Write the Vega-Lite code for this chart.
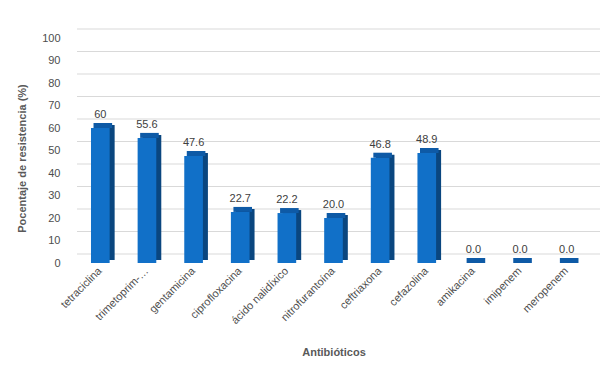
{
  "$schema": "https://vega.github.io/schema/vega-lite/v6.json",
  "autosize": {"type": "none"},
  "width": 513,
  "height": 225,
  "padding": {"left": 77, "top": 38, "right": 25, "bottom": 121},
  "background": "#FFFFFF",
  "config": {
    "view": {"stroke": null},
    "font": "Liberation Sans",
    "axis": {"labelFont": "Liberation Sans", "titleFont": "Liberation Sans"}
  },
  "data": {
    "values": [
      {"antibiotico": "tetraciclina", "valor": 60, "etiqueta": "60"},
      {"antibiotico": "trimetoprim-sulfametoxazol", "valor": 55.6, "etiqueta": "55.6"},
      {"antibiotico": "gentamicina", "valor": 47.6, "etiqueta": "47.6"},
      {"antibiotico": "ciprofloxacina", "valor": 22.7, "etiqueta": "22.7"},
      {"antibiotico": "ácido nalidíxico", "valor": 22.2, "etiqueta": "22.2"},
      {"antibiotico": "nitrofurantoína", "valor": 20.0, "etiqueta": "20.0"},
      {"antibiotico": "ceftriaxona", "valor": 46.8, "etiqueta": "46.8"},
      {"antibiotico": "cefazolina", "valor": 48.9, "etiqueta": "48.9"},
      {"antibiotico": "amikacina", "valor": 0.0, "etiqueta": "0.0"},
      {"antibiotico": "imipenem", "valor": 0.0, "etiqueta": "0.0"},
      {"antibiotico": "meropenem", "valor": 0.0, "etiqueta": "0.0"}
    ]
  },
  "encoding": {
    "x": {
      "field": "antibiotico",
      "type": "nominal",
      "sort": null,
      "scale": {"paddingInner": 0, "paddingOuter": 0},
      "axis": {
        "title": "Antibióticos",
        "titleFontSize": 11,
        "titleFontWeight": "bold",
        "titleColor": "#595959",
        "titleY": 83,
        "labelAngle": -45,
        "labelAlign": "right",
        "labelBaseline": "middle",
        "labelPadding": 6,
        "labelFontSize": 11,
        "labelColor": "#4D4D4D",
        "labelLimit": 200,
        "labelExpr": "datum.label == 'trimetoprim-sulfametoxazol' ? 'trimetoprim-…' : datum.label",
        "ticks": false,
        "domain": false,
        "grid": false
      }
    },
    "y": {
      "field": "valor",
      "type": "quantitative",
      "scale": {"domain": [0, 100], "nice": false},
      "axis": {
        "title": "Pocentaje de resistencia (%)",
        "titleFontSize": 11,
        "titleFontWeight": "bold",
        "titleColor": "#595959",
        "titleY": 120,
        "titlePadding": 14,
        "values": [0, 10, 20, 30, 40, 50, 60, 70, 80, 90, 100],
        "labelFontSize": 11,
        "labelColor": "#4D4D4D",
        "labelPadding": 17,
        "ticks": false,
        "domain": false,
        "grid": false
      }
    }
  },
  "layer": [
    {
      "data": {"values": [{"g": 0}, {"g": 10}, {"g": 20}, {"g": 30}, {"g": 40}, {"g": 50}, {"g": 60}, {"g": 70}, {"g": 80}, {"g": 90}, {"g": 100}]},
      "mark": {"type": "rule", "color": "#D9D9D9", "strokeWidth": 1, "yOffset": -9, "xOffset": 10, "x2Offset": 7},
      "encoding": {
        "x": null,
        "y": {"field": "g", "type": "quantitative"}
      }
    },
    {
      "mark": {"type": "bar", "color": "#0A467F", "xOffset": 5, "yOffset": -3, "width": {"band": 0.4}}
    },
    {
      "mark": {"type": "tick", "color": "#0E5AA6", "orient": "horizontal", "thickness": 5, "size": 18.6, "xOffset": 2.5, "yOffset": -2.5, "opacity": 1}
    },
    {
      "mark": {"type": "bar", "color": "#1170C8", "width": {"band": 0.4}}
    },
    {
      "mark": {"type": "text", "fontSize": 11, "color": "#404040", "baseline": "alphabetic", "yOffset": -10},
      "encoding": {"text": {"field": "etiqueta"}}
    }
  ]
}
